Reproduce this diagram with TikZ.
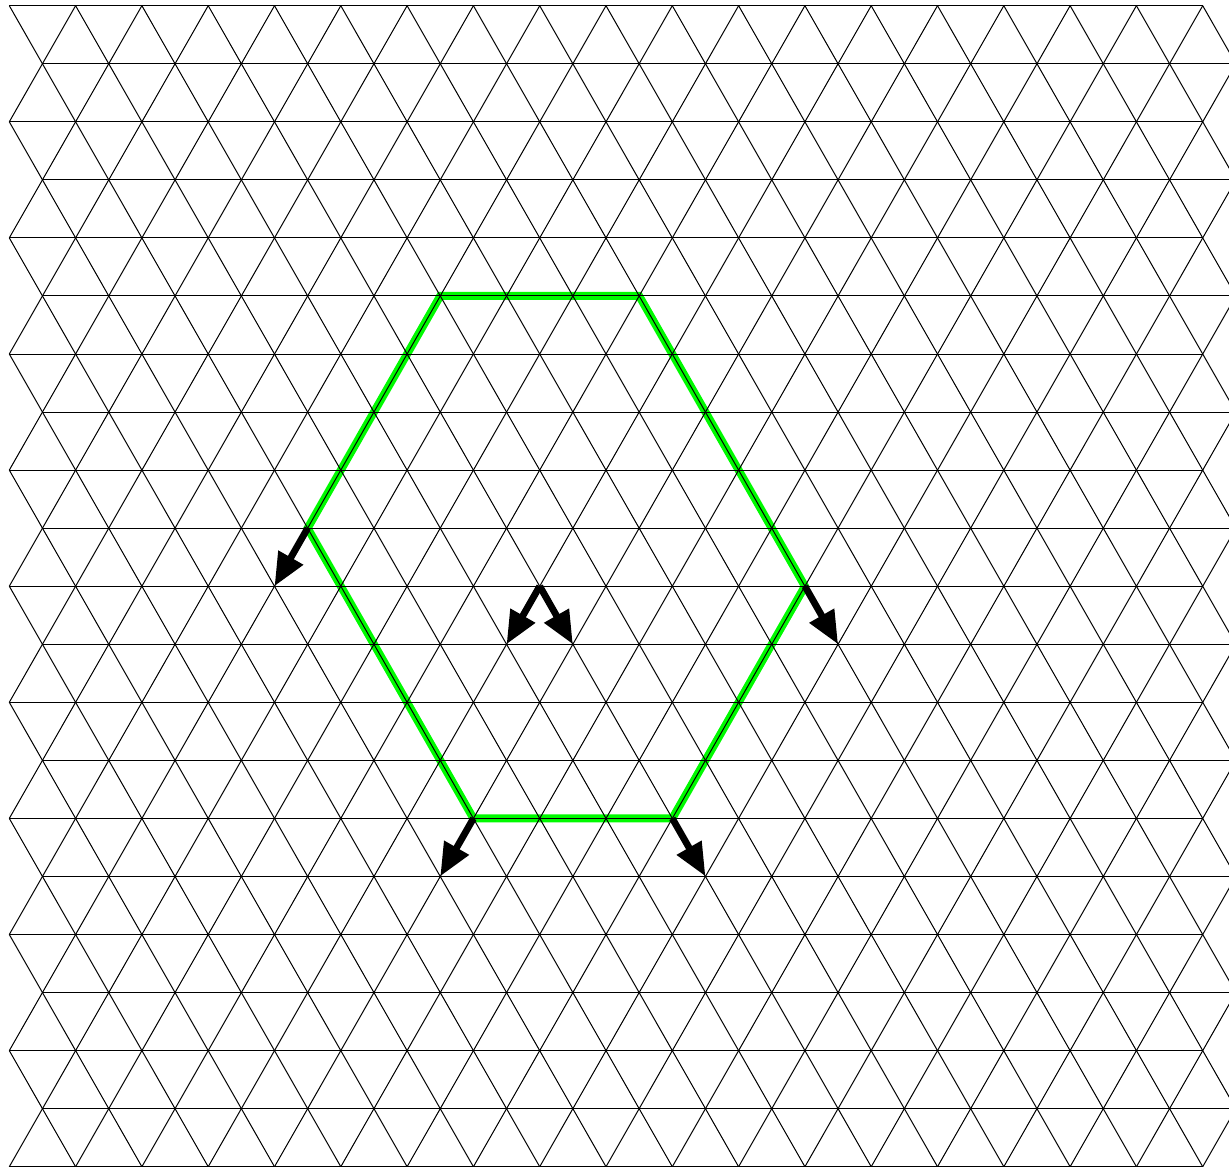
\documentclass[tikz,border=0pt]{standalone}
\usetikzlibrary{arrows.meta}
\definecolor{hexgreen}{RGB}{0,250,0}
\begin{document}
\begin{tikzpicture}[x=0.5pt,y=-0.5pt,
  gridline/.style={line width=0.5pt, black},
  hexline/.style={line width=4pt, hexgreen, line join=miter},
  vec/.style={line width=3.4pt, black, -{Triangle[length=16.5pt,width=13.5pt]}}]
\useasboundingbox (0,0) rectangle (1229,1167);
% hexagon vertices and arrow tips (lattice points)
\coordinate (A) at (440.25,295.95);
\coordinate (B) at (639.15,295.95);
\coordinate (C) at (804.9,586.2);
\coordinate (D) at (672.3,818.4);
\coordinate (E) at (473.4,818.4);
\coordinate (F) at (307.65,528.15);
\coordinate (O) at (539.7,586.2);
\coordinate (tF) at (274.5,586.2);
\coordinate (tC) at (838.05,644.25);
\coordinate (tE) at (440.25,876.3);
\coordinate (tD) at (705.45,876.3);
\coordinate (tO1) at (506.55,644.25);
\coordinate (tO2) at (572.85,644.25);
% green hexagon
\draw[hexline] (A) -- (B) -- (C) -- (D) -- (E) -- (F) -- cycle;
% triangular grid
\begin{scope}
\clip (0,0) rectangle (1229,1167);
\foreach \r in {0,...,20} {
  \pgfmathsetmacro{\xs}{9.3+33.15*mod(\r,2)}
  \pgfmathsetmacro{\yy}{5.7+58.05*\r}
  \draw[gridline] (\xs,\yy) -- ({\xs+66.3*18},\yy);
}
\foreach \r in {0,...,19} {
  \pgfmathsetmacro{\ye}{5.7+58.05*(\r+mod(\r,2))}
  \pgfmathsetmacro{\yo}{5.7+58.05*(\r+1-mod(\r,2))}
  \foreach \k in {0,...,18} {
    \draw[gridline] ({9.3+66.3*\k},\ye) -- ({42.45+66.3*\k},\yo);
  }
  \foreach \k in {1,...,18} {
    \draw[gridline] ({9.3+66.3*\k},\ye) -- ({42.45+66.3*(\k-1)},\yo);
  }
}
\end{scope}
% arrows
\draw[vec] (F) -- (tF);
\draw[vec] (C) -- (tC);
\draw[vec] (E) -- (tE);
\draw[vec] (D) -- (tD);
\draw[vec] (O) -- (tO1);
\draw[vec] (O) -- (tO2);
\end{tikzpicture}
\end{document}
